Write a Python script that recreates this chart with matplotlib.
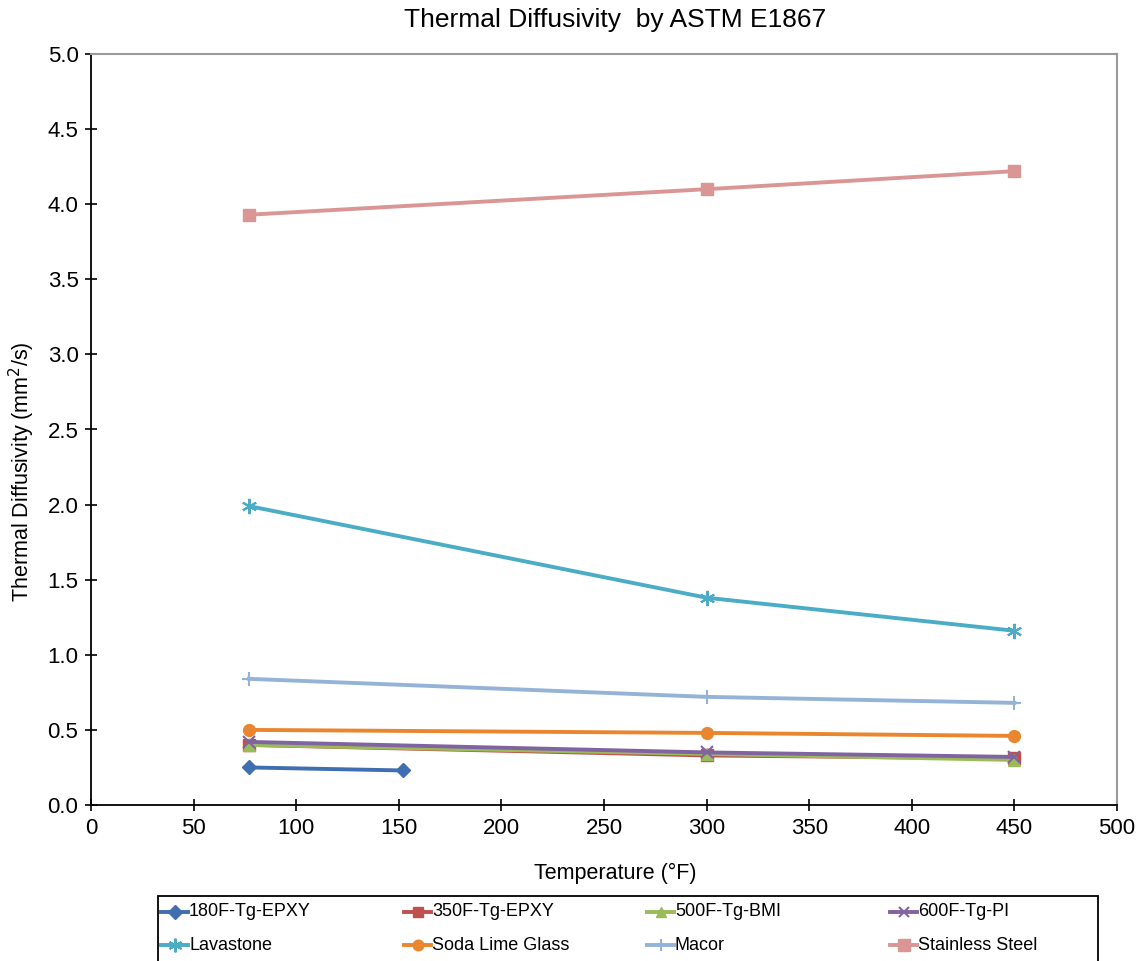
import matplotlib
matplotlib.use("Agg")
import matplotlib.pyplot as plt
from matplotlib.lines import Line2D
from matplotlib.patches import Rectangle
from matplotlib import font_manager

plt.rcParams['font.family'] = ['Liberation Sans', 'DejaVu Sans']

temps_full = [77, 300, 450]
temps_short = [77, 152]

names = ["180F-Tg-EPXY", "350F-Tg-EPXY", "500F-Tg-BMI", "600F-Tg-PI",
         "Lavastone", "Soda Lime Glass", "Macor", "Stainless Steel"]
xs_list = [temps_short, temps_full, temps_full, temps_full,
           temps_full, temps_full, temps_full, temps_full]
ys_list = [
    [0.25, 0.23],
    [0.40, 0.33, 0.31],
    [0.40, 0.34, 0.30],
    [0.42, 0.35, 0.32],
    [1.99, 1.38, 1.16],
    [0.50, 0.48, 0.46],
    [0.84, 0.72, 0.68],
    [3.93, 4.10, 4.22],
]
colors = ["#3F6FB0", "#C0504D", "#9BBB59", "#8064A2",
          "#4BACC6", "#E9862F", "#95B3D7", "#D99694"]
markers = ["D", "s", "^", "x", (6, 2, 0), "o", "+", "s"]
msizes = [7.5, 8, 8, 8, 11, 8.5, 10, 9]

x_ticks = list(range(0, 501, 50))
y_ticks = [i * 0.5 for i in range(11)]

narrow = 'Liberation Sans Narrow'
available = {f.name for f in font_manager.fontManager.ttflist}
legend_family = [narrow, 'Liberation Sans'] if narrow in available else ['Liberation Sans']

W, H = 1145, 961
fig = plt.figure(figsize=(W / 100, H / 100), dpi=100)
ax = fig.add_axes([91 / W, (H - 805) / H, (1117 - 91) / W, (805 - 54) / H])


def mew_for(m):
    return 1.5 if m in ("x", "+") or isinstance(m, tuple) else 1.0


for name, xs, ys, c, m, ms in zip(names, xs_list, ys_list, colors, markers, msizes):
    ax.plot(xs, ys, color=c, lw=2.8, marker=m, ms=ms,
            mfc=c, mec=c, mew=mew_for(m), label=name)

ax.set_xlim(0, 500)
ax.set_ylim(0, 5.0)
ax.set_xticks(x_ticks)
ax.set_yticks(y_ticks)
ax.set_yticklabels([f"{v:.1f}" for v in y_ticks])
ax.tick_params(direction='inout', length=8, width=1.2, labelsize=16, colors='black', pad=5)
for side in ('left', 'bottom'):
    ax.spines[side].set_color('black')
    ax.spines[side].set_linewidth(1.3)
for side in ('top', 'right'):
    ax.spines[side].set_color('#9a9a9a')
    ax.spines[side].set_linewidth(1.5)

fig.text(615 / W, 1 - 873 / H, "Temperature (°F)", ha='center', va='center', fontsize=15.5)
fig.text(22 / W, 1 - 472 / H, "Thermal Diffusivity (mm$^2$/s)", ha='center', va='center',
         rotation=90, fontsize=15.5)
fig.text(615 / W, 1 - 20 / H, "Thermal Diffusivity  by ASTM E1867",
         ha='center', va='center', fontsize=19)

# legend: 4 equal-width columns, row-major, frame running off the bottom edge
fig.add_artist(Rectangle((158 / W, 1 - 985 / H), (1098 - 158) / W, (985 - 896) / H,
                         transform=fig.transFigure, fill=False, edgecolor='black',
                         linewidth=1.3, clip_on=False))
for i, (name, c, m, ms) in enumerate(zip(names, colors, markers, msizes)):
    row, col = divmod(i, 4)
    x0 = (161 + col * 243) / W
    x1 = (188 + col * 243) / W
    y = 1 - (912 + row * 33) / H
    fig.add_artist(Line2D([x0, x1], [y, y], transform=fig.transFigure, color=c, lw=2.8))
    fig.add_artist(Line2D([(x0 + x1) / 2], [y], transform=fig.transFigure, color=c,
                          marker=m, ms=ms * 0.9, mfc=c, mec=c, mew=mew_for(m)))
    fig.text(x1 + 1 / W, y, name, ha='left', va='center', fontsize=13,
             family=legend_family)

fig.savefig("out.png", dpi=100)
